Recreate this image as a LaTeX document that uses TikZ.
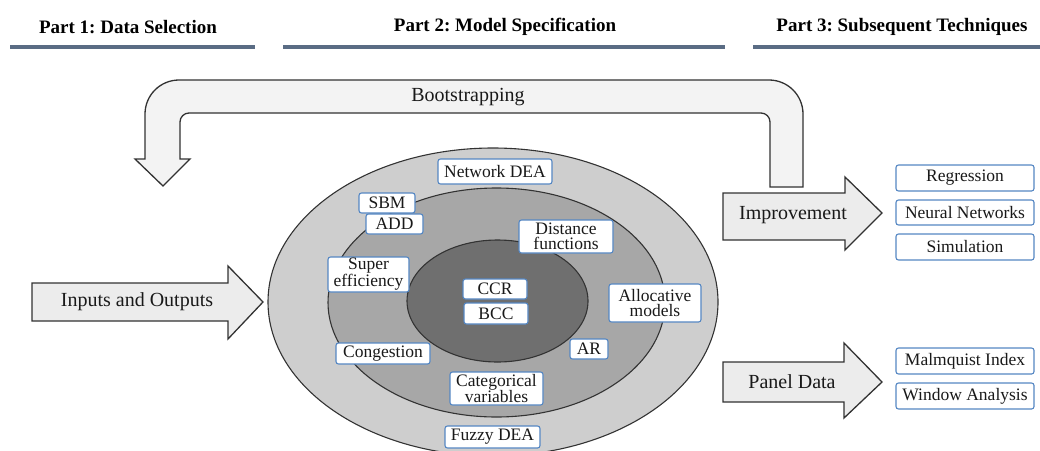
\documentclass[tikz,border=0pt]{standalone}
\usepackage{fontspec}
\setmainfont{Liberation Serif}
\frenchspacing
\definecolor{hdrline}{RGB}{90,108,132}
\definecolor{boxblue}{RGB}{85,135,195}
\definecolor{ringA}{RGB}{206,206,206}
\definecolor{ringB}{RGB}{167,167,167}
\definecolor{ringC}{RGB}{111,111,111}
\definecolor{arrfill}{RGB}{236,236,236}
\definecolor{bootfill}{RGB}{243,243,243}
\definecolor{arrline}{RGB}{50,50,50}
\definecolor{txt}{RGB}{25,25,25}
\begin{document}
\begin{tikzpicture}[x=1pt,y=-1pt,
  hdr/.style={font=\fontsize{19}{20}\selectfont\bfseries, text=black, inner sep=0},
  hline/.style={draw=hdrline, line width=3.2pt},
  ring/.style={draw=black!80, line width=1.1pt},
  bigarrow/.style={draw=arrline, fill=arrfill, line width=1.3pt, line join=miter},
  arrtext/.style={font=\fontsize{20}{20}\selectfont, text=txt, inner sep=0},
  tbox/.style={draw=boxblue, fill=white, rounded corners=2.5pt, line width=1.1pt,
     font=\fontsize{17.5}{15.5}\selectfont, text=txt, align=center, inner sep=0pt, minimum height=20pt}
]
\useasboundingbox (0,0) rectangle (1040,450);
% headers
\node[hdr] (h1) at (128,27) {Part 1: Data Selection};
\node[hdr] (h2) at (505,27) {Part 2: Model Specification};
\node[hdr] (h3) at (902,27) {Part 3: Subsequent Techniques};
\draw[hline] (10,47) -- (255,47);
\draw[hline] (283,47) -- (725,47);
\draw[hline] (753,47) -- (1040,47);
% bootstrapping arrow
\draw[draw=arrline, fill=bootfill, line width=1.3pt]
  (803,187) [rounded corners=34] -- (803,80) -- (145,80) [sharp corners] -- (145,159)
  -- (135,159) -- (163,186) -- (190,159) -- (180,159) [rounded corners=9] -- (180,113)
  -- (770,113) [sharp corners] -- (770,187) -- cycle;
\node[arrtext] (boot) at (468,97) {Bootstrapping};
% rings
\draw[ring, fill=ringA] (493,302) ellipse [x radius=225, y radius=154];
\draw[ring, fill=ringB] (496.5,302.5) ellipse [x radius=168.5, y radius=114.5];
\draw[ring, fill=ringC] (497.5,301) ellipse [x radius=90.5, y radius=61];
% inputs arrow
\draw[bigarrow] (32,283) -- (228,283) -- (228,266) -- (263,302) -- (228,339) -- (228,321) -- (32,321) -- cycle;
\node[arrtext] (inout) at (137,302) {Inputs and Outputs};
% improvement arrow
\draw[bigarrow] (723,193) -- (845,193) -- (845,177) -- (882,213) -- (845,250) -- (845,240) -- (723,240) -- cycle;
\node[arrtext] (impr) at (793,215) {Improvement};
% panel arrow
\draw[bigarrow] (723,362) -- (844,362) -- (844,343) -- (882,382) -- (844,418) -- (844,402) -- (723,402) -- cycle;
\node[arrtext] (panel) at (792,382) {Panel Data};
% ring boxes
\node[tbox, minimum width=114pt, minimum height=25pt] (net) at (495,171.5) {Network DEA};
\node[tbox, minimum width=56pt] (sbm) at (387,203) {SBM};
\node[tbox, minimum width=57pt] (add) at (394.5,224) {ADD};
\node[tbox, minimum width=94pt, minimum height=33pt] (dist) at (566,236.5) {Distance\\functions};
\node[tbox, minimum width=81pt, minimum height=35pt] (sup) at (368.5,274.5) {Super\\efficiency};
\node[tbox, minimum width=64pt] (ccr) at (495,289) {CCR};
\node[tbox, minimum width=64pt, minimum height=21pt] (bcc) at (496,313.5) {BCC};
\node[tbox, minimum width=92pt, minimum height=38pt] (alloc) at (655,303) {Allocative\\models};
\node[tbox, minimum width=94pt, minimum height=21pt] (cong) at (383,353.5) {Congestion};
\node[tbox, minimum width=38pt] (ar) at (589,349) {AR};
\node[tbox, minimum width=93pt, minimum height=33pt] (cat) at (496.5,388.5) {Categorical\\variables};
\node[tbox, minimum width=95pt, minimum height=22pt] (fuzzy) at (492.5,437) {Fuzzy DEA};
% right boxes
\node[tbox, minimum width=138pt, minimum height=26pt] (reg) at (965,178) {Regression};
\node[tbox, minimum width=138pt, minimum height=25pt] (nn) at (965,212.5) {Neural Networks};
\node[tbox, minimum width=138pt, minimum height=26pt] (sim) at (965,247) {Simulation};
\node[tbox, minimum width=138pt, minimum height=26pt] (malm) at (965,361) {Malmquist Index};
\node[tbox, minimum width=138pt, minimum height=26pt] (win) at (965,396) {Window Analysis};
\end{tikzpicture}
\end{document}
